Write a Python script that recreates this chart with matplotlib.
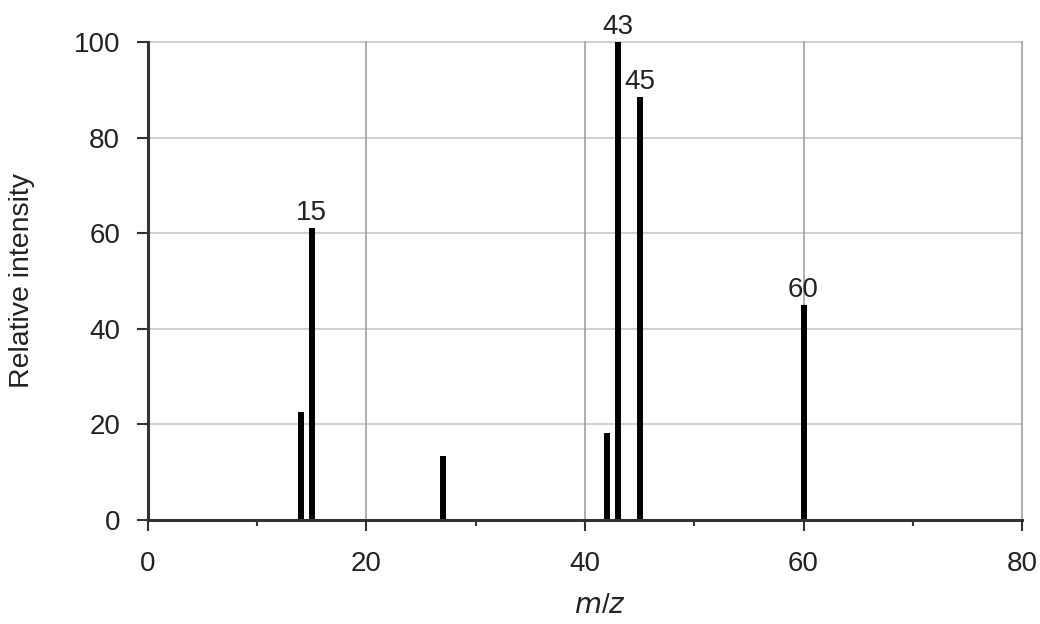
import matplotlib
matplotlib.use("Agg")
import matplotlib.pyplot as plt

# Mass spectrum peaks
mz = [14, 15, 27, 42, 43, 45, 60]
intensity = [22.6, 61, 13.4, 18.1, 100, 88.4, 45]
labelled_peaks = [15, 43, 45, 60]

plt.rcParams["font.family"] = ["Liberation Sans", "DejaVu Sans"]
text_color = "#222222"
fs = 20

fig = plt.figure(figsize=(10.4, 6.24), dpi=100)
ax = fig.add_axes([0.1423, 0.1667, 0.8404, 0.766])

ax.set_xlim(0, 80)
ax.set_ylim(0, 100)

# grid
for y in [20, 40, 60, 80, 100]:
    ax.axhline(y, color="#cccccc", lw=1.3, zorder=0, clip_on=False)
for x in [20, 40, 60, 80]:
    ax.axvline(x, color="#9a9a9a", lw=1.1, zorder=0, clip_on=False)

# peaks
ax.vlines(mz, 0, intensity, colors="black", lw=4.3, zorder=3, clip_on=False)

for m, h in zip(mz, intensity):
    if m in labelled_peaks:
        ax.annotate(str(m), xy=(m, h), xytext=(0, 1.5), textcoords="offset points",
                    ha="center", va="bottom", fontsize=fs, color=text_color)

for side in ["top", "right"]:
    ax.spines[side].set_visible(False)
for side in ["left", "bottom"]:
    ax.spines[side].set_color("#333333")
    ax.spines[side].set_linewidth(2.2)
    ax.spines[side].set_zorder(4)

ax.set_xticks([0, 20, 40, 60, 80])
ax.set_xticks([10, 30, 50, 70], minor=True)
ax.set_yticks([0, 20, 40, 60, 80, 100])
ax.tick_params(axis="both", which="major", direction="out", length=8, width=1.5,
               color="#333333", labelsize=fs, labelcolor=text_color)
ax.tick_params(axis="x", which="major", pad=14)
ax.tick_params(axis="y", which="major", pad=12)
ax.tick_params(axis="x", which="minor", direction="out", length=4.5, width=1.5,
               color="#333333")

ax.set_ylabel("Relative intensity", fontsize=20.5, color=text_color, labelpad=28)
ax.set_xlabel(r"$\mathit{m}$/$\mathit{z}$", fontsize=fs, color=text_color, labelpad=12)
ax.xaxis.label.set_x(0.517)

fig.savefig("out.png", dpi=100, facecolor="white")
